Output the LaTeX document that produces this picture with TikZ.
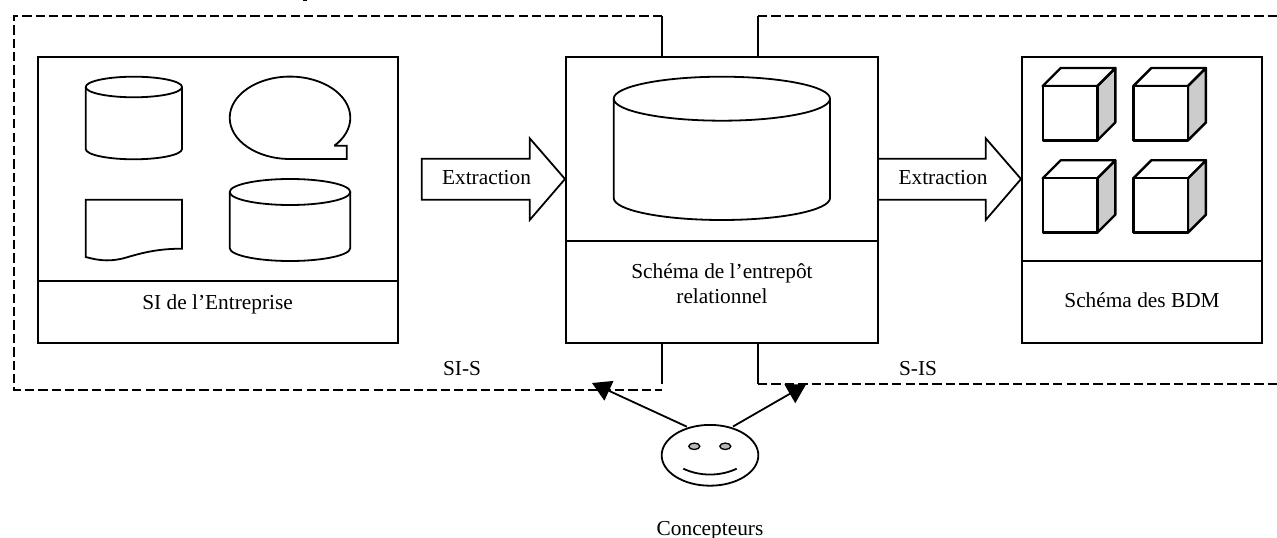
\documentclass[tikz,border=0pt]{standalone}
\usepackage{fontspec}
\setmainfont{Liberation Serif}
\usetikzlibrary{arrows.meta,shapes.geometric}
\tikzset{
  ln/.style={line width=1.35pt,line join=miter},
  thk/.style={line width=1.8pt,line join=round},
  panel/.style={draw,line width=1.5pt,rectangle,inner sep=0pt,outer sep=0pt},
  dashline/.style={line width=1.4pt,dash pattern=on 7pt off 3.06pt},
  lbl/.style={font=\fontsize{16}{18.75}\selectfont,inner sep=0pt,anchor=base},
  pointer/.style={line width=1.35pt,-{Triangle[length=14pt,width=16pt]}},
  blockarrow/.style={ln,fill=white},
}
\newcommand{\cylshape}[5]{% x1 x2 ytop ry ysidebottom
  \pgfmathsetmacro{\xc}{(#1+#2)/2}\pgfmathsetmacro{\rx}{(#2-#1)/2}\pgfmathsetmacro{\yc}{#3+#4}
  \draw[ln] (#1,\yc) arc[start angle=180,end angle=540,x radius=\rx,y radius=#4];
  \draw[ln] (#1,\yc) -- (#1,#5) arc[start angle=180,end angle=0,x radius=\rx,y radius=#4] -- (#2,\yc);
}
\newcommand{\cubeshape}[2]{% front top-left
  \pgfmathsetmacro{\xr}{#1+54.6}\pgfmathsetmacro{\yb}{#2+54.4}
  \pgfmathsetmacro{\xs}{#1+18}\pgfmathsetmacro{\ys}{#2-18}
  \pgfmathsetmacro{\xt}{\xr+18}\pgfmathsetmacro{\yt}{\yb-18}
  \draw[thk,fill=black!20] (\xr,#2) -- (\xt,\ys) -- (\xt,\yt) -- (\xr,\yb) -- cycle;
  \draw[thk,fill=white] (#1,#2) -- (\xs,\ys) -- (\xt,\ys) -- (\xr,#2) -- cycle;
  \draw[thk,fill=white] (#1,#2) rectangle (\xr,\yb);
}
\begin{document}
\begin{tikzpicture}[x=0.75pt,y=-0.75pt]
\useasboundingbox (0,0) rectangle (1277,538);

% panels
\node[panel,minimum width=270pt,minimum height=214.8pt] (si) at (217.7,199.8) {};
\node[panel,minimum width=234.2pt,minimum height=214.8pt] (dw) at (721.9,199.8) {};
\node[panel,minimum width=180pt,minimum height=214.8pt] (dm) at (1142,199.8) {};

% dividers
\coordinate (sid) at (0,281);
\coordinate (dwd) at (0,241);
\coordinate (dmd) at (0,261);
\draw[ln] (si.west |- sid) -- (si.east |- sid);
\draw[ln] (dw.west |- dwd) -- (dw.east |- dwd);
\draw[ln] (dm.west |- dmd) -- (dm.east |- dmd);

% feedback loops
\coordinate (lt) at (662,16);
\coordinate (lb) at (662,384);
\coordinate (ltd) at (14,16);
\coordinate (lbd) at (14,390);
\coordinate (lbe) at (662,390);
\coordinate (rt) at (758,16);
\coordinate (rb) at (758,384);
\coordinate (rte) at (1283,16);
\coordinate (rbe) at (1283,384);
\draw[ln] (lt |- dw.north) -- (lt);
\draw[ln] (lb |- dw.south) -- (lb);
\draw[ln] (rt |- dw.north) -- (rt);
\draw[ln] (rb |- dw.south) -- (rb);
\draw[dashline] (lt) -- (ltd) -- (lbd) -- (lbe);
\draw[dashline] (rt) -- (rte);
\draw[dashline] (rb) -- (rbe);

% sources
\cylshape{85.7}{182}{76.7}{10.3}{149}
\draw[ln] (334,145.7) -- (346.7,145.7) -- (346.7,159) -- (290,159)
  arc[start angle=90,end angle=402.6,x radius=60.3,y radius=41.2];
\draw[ln] (85.7,199.7) -- (182,199.7) -- (182,248.7)
  .. controls (160,248.7) and (145,252) .. (128,257)
  .. controls (112,262) and (100,261) .. (85.7,257) -- cycle;
\cylshape{229.7}{350.3}{179}{13}{248}

% warehouse cylinder
\cylshape{613.7}{830}{76.7}{22}{198}

% cubes
\cubeshape{1042.7}{86}
\cubeshape{1133.3}{86}
\cubeshape{1042.7}{178.3}
\cubeshape{1133.3}{178.3}

% block arrows
\draw[blockarrow] (421.7,158.7) -- (529.7,158.7) -- (529.7,138.3) -- (565,179) -- (529.7,220) -- (529.7,199.7) -- (421.7,199.7) -- cycle;
\draw[blockarrow] (878,158.7) -- (985.7,158.7) -- (985.7,138.3) -- (1021,179) -- (985.7,220) -- (985.7,199.7) -- (878,199.7) -- cycle;

% stray mark of the reference's top edge
\fill (303,0) rectangle (307,1.2);

% texts
\node[lbl] (ex1) at (486.5,185) {Extraction};
\node[lbl] (ex2) at (943,185) {Extraction};
\node[lbl] (sil) at (217.6,309) {SI de l’Entreprise};
\node[lbl] (dwl1) at (722,278) {Schéma de l’entrepôt};
\node[lbl] (dwl2) at (722,303.5) {relationnel};
\node[lbl] (dml) at (1142,307.5) {Schéma des BDM};
\node[lbl] (sis) at (462,375) {SI-S};
\node[lbl] (ssi) at (918,375) {S-IS};
\node[lbl] (con) at (710,535.5) {Concepteurs};

% designers
\node[ellipse,draw,line width=1.35pt,inner sep=0pt,outer sep=0pt,minimum width=72.5pt,minimum height=45.6pt] (face) at (710,455.3) {};
\draw[line width=1pt,fill=black!28] (694.3,446.3) ellipse [x radius=5.5,y radius=3.2];
\draw[line width=1pt,fill=black!28] (725.3,446.3) ellipse [x radius=5.5,y radius=3.2];
\draw[ln] (683.3,468.7) .. controls (700,476.5) and (720,476.5) .. (736.7,468.7);
\coordinate (tipl) at (592,383);
\coordinate (tipr) at (806,384.5);
\draw[pointer,shorten <=2pt] (face.127) -- (tipl);
\draw[pointer,shorten <=2pt] (face.53) -- (tipr);
\end{tikzpicture}
\end{document}
